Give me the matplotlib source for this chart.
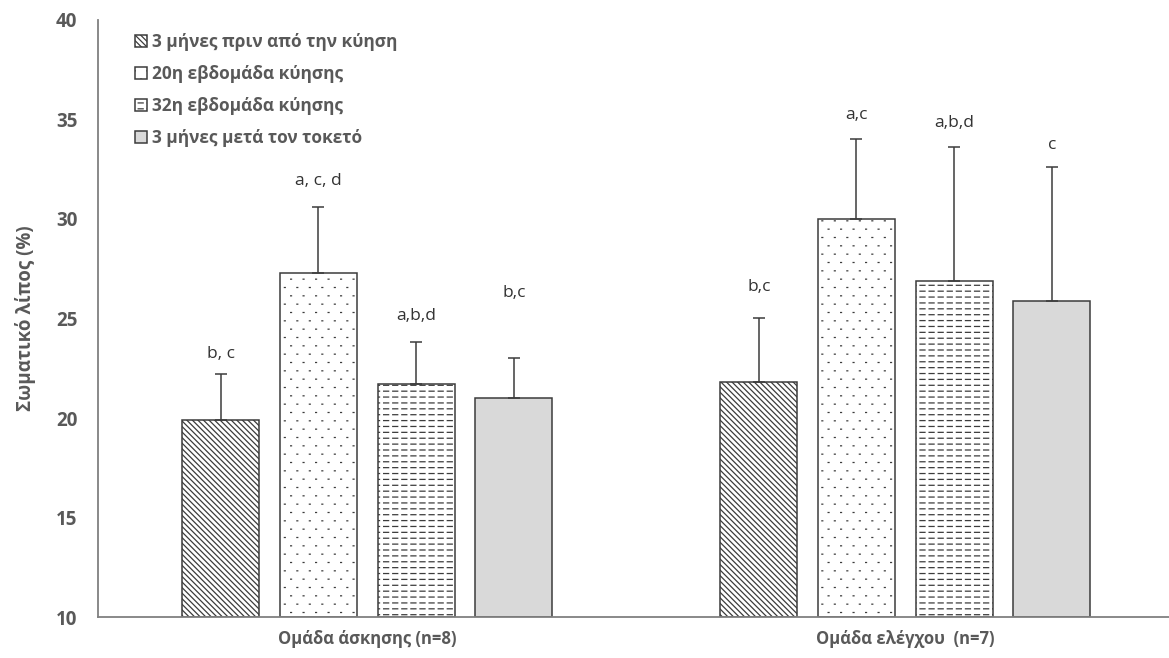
import numpy as np
import matplotlib
matplotlib.use("Agg")
import matplotlib.pyplot as plt
from matplotlib import hatch as mhatch
from matplotlib.path import Path

groups = ["Ομάδα άσκησης (n=8)", "Ομάδα ελέγχου  (n=7)"]
series = ["3 μήνες πριν από την κύηση", "20η εβδομάδα κύησης",
          "32η εβδομάδα κύησης", "3 μήνες μετά τον τοκετό"]
means = [[19.9, 27.3, 21.7, 21.0],
         [21.8, 30.0, 26.9, 25.9]]
sds = [[2.3, 3.3, 2.1, 2.0],
       [3.2, 4.0, 6.7, 6.7]]
letters = [["b, c", "a, c, d", "a,b,d", "b,c"],
           ["b,c", "a,c", "a,b,d", "c"]]
letter_y = [[23.2, 31.9, 25.1, 26.3],
            [26.6, 35.2, 34.8, 33.7]]


class DashRows(mhatch.HatchPatternBase):
    """horizontal rows of short dashes ('-')"""
    def __init__(self, hatch, density):
        self.rows = 17 if '-' in hatch else 0
        self.per_row = 11
        self.num_vertices = self.rows * self.per_row * 2

    def set_vertices_and_codes(self, vertices, codes):
        ys = (np.arange(self.rows) + 0.5) / self.rows
        period = 1.0 / self.per_row
        xs = np.arange(self.per_row) * period + period * 0.2
        X, Y = np.meshgrid(xs, ys)
        X, Y = X.ravel(), Y.ravel()
        vertices[0::2, 0] = X
        vertices[0::2, 1] = Y
        vertices[1::2, 0] = X + period * 0.55
        vertices[1::2, 1] = Y
        codes[0::2] = Path.MOVETO
        codes[1::2] = Path.LINETO


class DotGrid(mhatch.HatchPatternBase):
    """sparse staggered tiny dots ('.')"""
    def __init__(self, hatch, density):
        self.rows = int(hatch.count('.') * density)
        self.cols = 8
        self.num_vertices = self.rows * self.cols * 2

    def set_vertices_and_codes(self, vertices, codes):
        pts = []
        for r in range(self.rows):
            off = 0.5 if r % 2 else 0.0
            for c in range(self.cols):
                pts.append(((c + off + 0.25) / self.cols, (r + 0.5) / self.rows))
        pts = np.array(pts)
        vertices[0::2] = pts
        vertices[1::2, 0] = pts[:, 0] + 0.009
        vertices[1::2, 1] = pts[:, 1]
        codes[0::2] = Path.MOVETO
        codes[1::2] = Path.LINETO


mhatch._hatch_types = [DashRows, DotGrid, mhatch.NorthEastHatch, mhatch.SouthEastHatch]

plt.rcParams['font.family'] = ['Open Sans', 'DejaVu Sans']
plt.rcParams['hatch.linewidth'] = 0.9

text_gray = '#595959'
edge = '#3c3c3c'
hatches = ['\\' * 6, '..', '---', '']
fills = ['white', 'white', 'white', '#d9d9d9']

fig = plt.figure(figsize=(11.69, 6.58), dpi=100)
ax = fig.add_axes([0.084, 0.062, 0.916, 0.908])

x = np.arange(len(groups))
width = 0.143
step = 0.1816
for i, name in enumerate(series):
    xs = x + (i - 1.5) * step
    vals = [means[g][i] for g in range(len(groups))]
    errs = [sds[g][i] for g in range(len(groups))]
    ax.bar(xs, np.array(vals) - 10, width, bottom=10, color=fills[i],
           edgecolor=edge, linewidth=1.1, hatch=hatches[i], label=name, zorder=2)
    ax.errorbar(xs, vals, yerr=[np.zeros(len(errs)), errs], fmt='none',
                ecolor=edge, elinewidth=1.1, capsize=4, capthick=1.1, zorder=3)
    for g in range(len(groups)):
        ax.text(xs[g], letter_y[g][i], letters[g][i], ha='center', va='center',
                fontsize=12.5, color='#333333')

ax.set_xlim(-0.5, 1.49)
ax.set_ylim(10, 40)
ax.set_yticks(np.arange(10, 41, 5))
ax.set_xticks(x)
ax.set_xticklabels(groups)
ax.tick_params(length=0, colors=text_gray)
ax.tick_params(axis='y', labelsize=13.5, pad=15)
ax.tick_params(axis='x', labelsize=12, pad=9)
for lab in ax.get_xticklabels() + ax.get_yticklabels():
    lab.set_fontweight('bold')
ax.set_ylabel("Σωματικό λίπος (%)", fontsize=13.5, fontweight='bold', color=text_gray, labelpad=14)
for s in ['top', 'right']:
    ax.spines[s].set_visible(False)
for s in ['left', 'bottom']:
    ax.spines[s].set_color('#808080')
    ax.spines[s].set_linewidth(1.3)

leg = ax.legend(loc='upper left', bbox_to_anchor=(0.02, 1.003), frameon=False,
                handlelength=0.7, handleheight=0.7, handletextpad=0.3,
                labelspacing=0.8, prop={'size': 12.4, 'weight': 'bold'})
for t in leg.get_texts():
    t.set_color(text_gray)

fig.savefig("out.png", dpi=100)
